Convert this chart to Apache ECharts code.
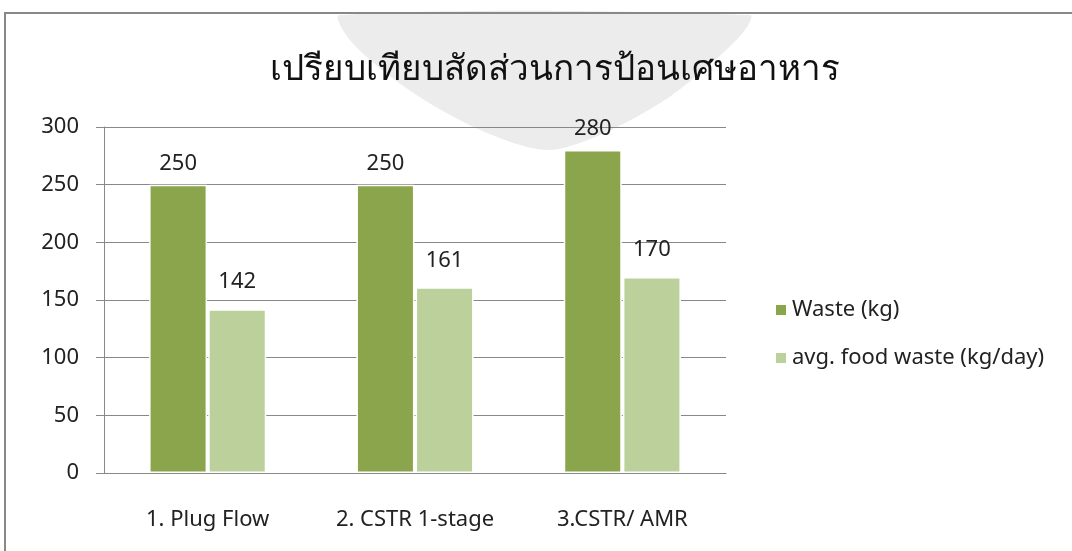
<!DOCTYPE html>
<html>
<head>
<meta charset="utf-8">
<script src="https://cdn.jsdelivr.net/npm/echarts@6/dist/echarts.min.js"></script>
<style>
  html, body { margin: 0; padding: 0; background: #fff; }
  #chart { width: 1072px; height: 551px; }
</style>
</head>
<body>
<div id="chart"></div>
<script>
const categories = ['1. Plug Flow', '2. CSTR 1-stage', '3.CSTR/ AMR']
const wasteKg = [250, 250, 280]
const avgFoodWaste = [142, 161, 170]
const seriesNames = ['Waste (kg)', 'avg. food waste (kg/day)']

const font = '"Noto Sans", sans-serif'

const chart = echarts.init(document.getElementById('chart'))
chart.setOption({
  animation: false,
  backgroundColor: '#fff',
  title: {
    text: 'เปรียบเทียบสัดส่วนการป้อนเศษอาหาร',
    left: 550,
    textAlign: 'center',
    top: 48,
    textStyle: { fontFamily: font, fontSize: 35, fontWeight: 'normal', color: '#111' },
  },
  graphic: [
    // faint watermark emblem behind the title, below the frame line
    {
      type: 'polygon',
      shape: {
        points: [[340, 15], [750, 15], [745, 30], [715, 60], [665, 100], [600, 135], [550, 150],
          [505, 140], [450, 115], [395, 80], [350, 40]],
        smooth: 0.3,
      },
      style: { fill: '#ececec' },
    },
    // frame of the chart area
    { type: 'rect', shape: { x: 4, y: 12, width: 1068, height: 2 }, style: { fill: '#888' } },
    { type: 'rect', shape: { x: 4, y: 12, width: 2, height: 539 }, style: { fill: '#888' } },
  ],
  legend: {
    orient: 'vertical',
    left: 769,
    top: 294,
    itemWidth: 12,
    itemHeight: 12,
    itemGap: 26,
    icon: 'rect',
    textStyle: { fontFamily: font, fontSize: 22, color: '#222' },
    data: seriesNames,
  },
  grid: { left: 104, right: 346, top: 127, bottom: 78 },
  xAxis: {
    type: 'category',
    data: categories,
    axisLine: { lineStyle: { color: '#888' } },
    axisTick: { length: 8, lineStyle: { color: '#888' } },
    axisLabel: { fontFamily: font, fontSize: 22, color: '#222', margin: 36 },
  },
  yAxis: {
    type: 'value',
    min: 0,
    max: 300,
    interval: 50,
    axisLine: { show: true, lineStyle: { color: '#888' } },
    axisTick: { show: true, inside: false, length: 8, lineStyle: { color: '#888' } },
    splitLine: { lineStyle: { color: '#888' } },
    axisLabel: { fontFamily: font, fontSize: 22, color: '#222', margin: 25 },
  },
  series: [
    {
      name: seriesNames[0],
      type: 'bar',
      data: wasteKg,
      barWidth: 58,
      barGap: '2%',
      itemStyle: { color: '#8AA54C', borderColor: '#fff', borderWidth: 1.5 },
      label: { show: true, position: 'top', distance: 10, fontFamily: font, fontSize: 22, color: '#222' },
    },
    {
      name: seriesNames[1],
      type: 'bar',
      data: avgFoodWaste,
      barWidth: 58,
      itemStyle: { color: '#BBD09A', borderColor: '#fff', borderWidth: 1.5 },
      label: { show: true, position: 'top', distance: 16, fontFamily: font, fontSize: 22, color: '#222' },
    },
  ],
})
</script>
</body>
</html>
